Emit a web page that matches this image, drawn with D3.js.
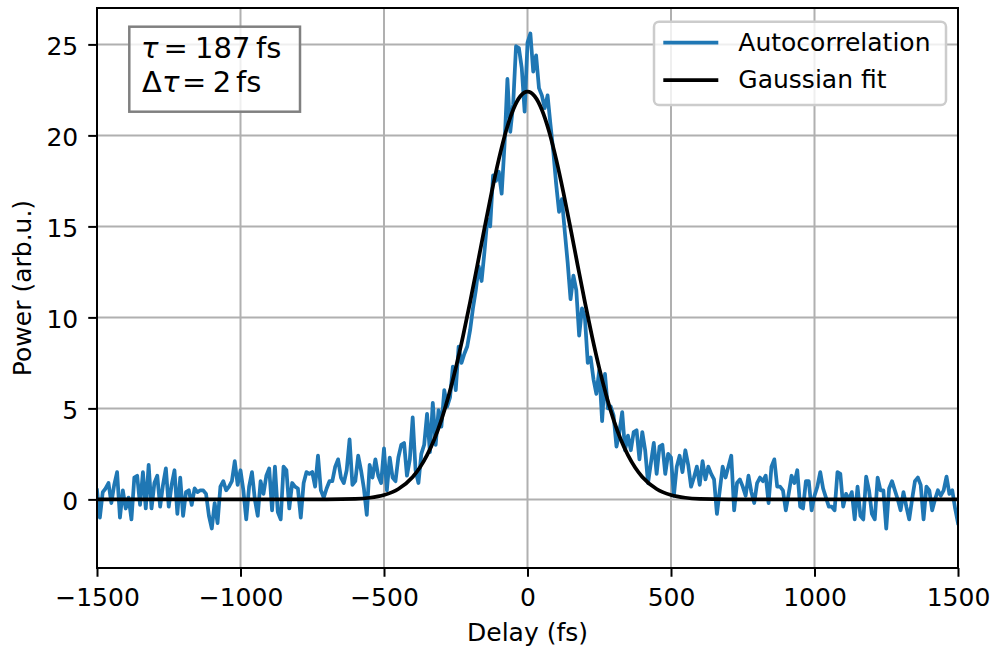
<!DOCTYPE html>
<html>
<head>
<meta charset="utf-8">
<script src="https://cdn.jsdelivr.net/npm/d3@7"></script>
<style>
  html, body { margin: 0; padding: 0; background: #fff; }
  svg { display: block; font-family: "DejaVu Sans", sans-serif; }
</style>
</head>
<body>
<svg id="chart" width="995" height="651"></svg>
<script>
// measured autocorrelation, one sample every 10 fs from -1500 fs
const delayStart = -1500
const delayStep = 10
const power = [
  0.5, -1.0, 0.4, 0.6, 0.9, -0.2, 0.8, 1.5, -1.0, 0.5,
  -0.5, 0.1, -1.1, 1.2, 1.3, -0.3, 1.5, -0.5, 1.9, -0.5,
  0.9, 1.3, -0.4, 0.8, 1.7, -0.4, 0.8, 1.6, -0.8, 1.2,
  -0.9, 0.4, 0.5, -0.3, 0.6, 0.4, 0.5, 0.5, 0.3, -0.9,
  -1.6, -0.2, -1.3, 0.7, 1.0, 0.5, 0.7, 1.0, 2.1, 0.8,
  1.6, 0.5, -1.1, 0.7, 1.5, 0.0, -0.9, 1.0, 0.3, 1.3,
  1.7, -0.6, 1.8, -0.7, -1.1, 1.8, 1.6, -0.5, 0.9, 0.7,
  0.6, -1.0, 0.9, 1.5, 1.4, 1.5, 0.7, 2.4, 0.5, 0.1,
  0.6, 1.0, 1.0, 1.8, 2.2, 1.2, 0.9, 1.6, 3.3, 0.8,
  1.0, 2.4, 1.6, 0.6, -0.85, 1.9, 1.2, 2.2, 1.3, 0.9,
  2.8, 0.5, 2.3, 1.2, 1.0, 2.3, 3.0, 3.1, 1.3, 2.2,
  4.5, 1.6, 0.9, 2.5, 3.0, 4.7, 2.6, 5.3, 3.0, 4.9,
  4.0, 6.0, 5.1, 5.6, 7.3, 6.0, 8.4, 7.5, 8.0, 8.4,
  9.3, 10.5, 11.5, 12.8, 12.0, 13.6, 15.4, 15.0, 17.8, 17.5,
  18.0, 16.8, 19.5, 23.1, 20.2, 21.7, 24.9, 24.8, 23.7, 21.3,
  25.1, 25.6, 23.5, 24.4, 22.6, 22.2, 21.5, 22.2, 20.6, 19.1,
  17.3, 15.8, 16.5, 14.7, 13.0, 11.0, 12.3, 11.5, 9.0, 10.5,
  10.0, 7.5, 7.8, 6.6, 5.8, 7.1, 4.3, 6.9, 5.0, 5.1,
  4.6, 2.9, 3.7, 4.8, 2.7, 3.5, 2.7, 3.7, 3.8, 2.2,
  3.7, 2.7, 0.9, 2.0, 3.1, 1.4, 2.9, 3.0, 1.4, 2.5,
  2.3, 0.2, 1.8, 2.4, 1.5, 2.7, 1.9, 0.7, 1.2, 1.8,
  0.8, 2.1, 1.1, 1.8, 1.4, 1.1, -0.8, 0.5, 1.8, 1.2,
  1.8, 2.4, -0.6, 0.9, 1.1, 0.7, 0.2, 1.3, 0.4, -0.2,
  0.9, 1.2, 1.0, 1.3, -0.2, 1.8, 2.2, 0.7, 0.7, 0.5,
  -0.6, 0.3, 1.3, 0.9, 1.6, -0.4, -0.5, 1.0, 1.0, -0.6,
  0.2, 0.7, 1.5, 0.6, 0.1, -0.4, -0.4, -0.6, 1.5, 1.4,
  -0.4, 0.3, 0.0, 0.4, -1.1, 0.7, -0.9, -1.1, 1.25, 0.5,
  -0.8, -1.1, 1.2, 0.5, 0.5, -1.6, 0.6, 1.0, 0.5, 0.0,
  -0.6, 0.4, -0.4, -1.1, 0.0, 1.0, 1.2, 0.8, -1.1, 0.7,
  0.5, -0.6, 0.0, 0.5, 0.2, 0.5, 1.25, 0.3, 0.5, -0.5,
  -1.3
]

// gaussian fit
const fitDelay = [-1500, -800, -700, -600, -550, -500, -450, -400, -375, -350, -325, -300,
  -275, -250, -225, -200, -175, -150, -125, -100, -75, -50, -25, 0,
  25, 50, 75, 100, 125, 150, 175, 200, 225, 250, 275,
  300, 325, 350, 375, 400, 450, 500, 550, 600, 700, 800, 1500]
const fitPower = [0, 0, 0.003, 0.03, 0.09, 0.24, 0.57, 1.23, 1.75, 2.43, 3.29, 4.37,
  5.68, 7.21, 8.94, 10.84, 12.85, 14.89, 16.87, 18.68, 20.23, 21.41, 22.15, 22.4,
  22.15, 21.41, 20.23, 18.68, 16.87, 14.89, 12.85, 10.84, 8.94, 7.21, 5.68,
  4.37, 3.29, 2.43, 1.75, 1.23, 0.57, 0.24, 0.09, 0.03, 0.003, 0, 0]

const xTicks = [-1500, -1000, -500, 0, 500, 1000, 1500]
const yTicks = [0, 5, 10, 15, 20, 25]
const seriesNames = ['Autocorrelation', 'Gaussian fit']
const seriesColors = ['#1f77b4', '#000000']

const width = 995
const height = 651
const margin = { top: 8, right: 37, bottom: 83, left: 97 }
const fontSize = 25

const svg = d3.select('#chart')

const x = d3.scaleLinear()
  .domain([-1500, 1500])
  .range([margin.left, width - margin.right])

const y = d3.scaleLinear()
  .domain([-3.77, 27.0])
  .range([height - margin.bottom, margin.top])

svg.append('defs').append('clipPath')
  .attr('id', 'plot-area')
  .append('rect')
  .attr('x', margin.left)
  .attr('y', margin.top)
  .attr('width', width - margin.left - margin.right)
  .attr('height', height - margin.top - margin.bottom)

// grid
const grid = svg.append('g').attr('stroke', '#b0b0b0').attr('stroke-width', 2)
grid.selectAll('.gx')
  .data(xTicks)
  .enter()
  .append('line')
  .attr('x1', d => x(d)).attr('x2', d => x(d))
  .attr('y1', margin.top).attr('y2', height - margin.bottom)
grid.selectAll('.gy')
  .data(yTicks)
  .enter()
  .append('line')
  .attr('x1', margin.left).attr('x2', width - margin.right)
  .attr('y1', d => y(d)).attr('y2', d => y(d))

// data lines
const measured = power.map((p, i) => [delayStart + i * delayStep, p])
const fit = fitDelay.map((d, i) => [d, fitPower[i]])

const plot = svg.append('g').attr('clip-path', 'url(#plot-area)')

plot.append('path')
  .datum(measured)
  .attr('fill', 'none')
  .attr('stroke', seriesColors[0])
  .attr('stroke-width', 3.75)
  .attr('stroke-linejoin', 'round')
  .attr('stroke-linecap', 'square')
  .attr('d', d3.line().x(d => x(d[0])).y(d => y(d[1])))

plot.append('path')
  .datum(fit)
  .attr('fill', 'none')
  .attr('stroke', seriesColors[1])
  .attr('stroke-width', 3.75)
  .attr('stroke-linejoin', 'round')
  .attr('d', d3.line().curve(d3.curveMonotoneX).x(d => x(d[0])).y(d => y(d[1])))

// axes
const xAxis = svg.append('g')
  .attr('transform', `translate(0,${height - margin.bottom})`)
  .call(d3.axisBottom(x).tickValues(xTicks).tickFormat(d3.format('d')).tickSize(8.75).tickPadding(11.5))
const yAxis = svg.append('g')
  .attr('transform', `translate(${margin.left},0)`)
  .call(d3.axisLeft(y).tickValues(yTicks).tickFormat(d3.format('d')).tickSize(8.75).tickPadding(10))

for (const ax of [xAxis, yAxis]) {
  ax.select('.domain').remove()
  ax.selectAll('.tick line').attr('stroke', '#000').attr('stroke-width', 2)
  ax.selectAll('.tick text')
    .attr('fill', '#000')
    .style('font-family', '"DejaVu Sans", sans-serif')
    .style('font-size', fontSize + 'px')
}
yAxis.selectAll('.tick text').attr('dy', '0.42em')

// spines
svg.append('rect')
  .attr('x', margin.left)
  .attr('y', margin.top)
  .attr('width', width - margin.left - margin.right)
  .attr('height', height - margin.top - margin.bottom)
  .attr('fill', 'none')
  .attr('stroke', '#000')
  .attr('stroke-width', 2)

svg.append('text')
  .attr('x', (margin.left + width - margin.right) / 2)
  .attr('y', 641)
  .attr('text-anchor', 'middle')
  .style('font-size', fontSize + 'px')
  .text('Delay (fs)')

svg.append('text')
  .attr('transform', `translate(31,${(margin.top + height - margin.bottom) / 2}) rotate(-90)`)
  .attr('text-anchor', 'middle')
  .style('font-size', fontSize + 'px')
  .text('Power (arb.u.)')

// legend
const legend = svg.append('g')
legend.append('rect')
  .attr('x', 654).attr('y', 21.7)
  .attr('width', 292).attr('height', 83.3)
  .attr('rx', 5)
  .attr('fill', '#fff').attr('fill-opacity', 0.8)
  .attr('stroke', '#cccccc').attr('stroke-width', 2.5)

legend.selectAll('.entry')
  .data(seriesNames)
  .enter()
  .append('g')
  .each(function (name, i) {
    const g = d3.select(this)
    const cy = 42.7 + i * 37.3
    g.append('line')
      .attr('x1', 663.3).attr('x2', 718.3)
      .attr('y1', cy).attr('y2', cy)
      .attr('stroke', seriesColors[i])
      .attr('stroke-width', 3.75)
    g.append('text')
      .attr('x', 738.3).attr('y', cy + 8.3)
      .style('font-size', fontSize + 'px')
      .text(name)
  })

// result box
const box = svg.append('g')
box.append('rect')
  .attr('x', 129.3).attr('y', 26.7)
  .attr('width', 170.7).attr('height', 85)
  .attr('fill', '#fff').attr('fill-opacity', 0.8)
  .attr('stroke', '#808080').attr('stroke-width', 2.5)

const line1 = box.append('text').attr('y', 58.3).style('font-size', '29px')
line1.append('tspan').attr('x', 141).style('font-style', 'italic').text('τ')
line1.append('tspan').attr('x', 163.5).text('=')
line1.append('tspan').attr('x', 195).text('187')
line1.append('tspan').attr('x', 256).text('fs')

const line2 = box.append('text').attr('y', 92.3).style('font-size', '29px')
line2.append('tspan').attr('x', 142).text('Δ')
line2.append('tspan').attr('x', 162).style('font-style', 'italic').text('τ')
line2.append('tspan').attr('x', 182).text('=')
line2.append('tspan').attr('x', 212.7).text('2')
line2.append('tspan').attr('x', 236).text('fs')
</script>
</body>
</html>
